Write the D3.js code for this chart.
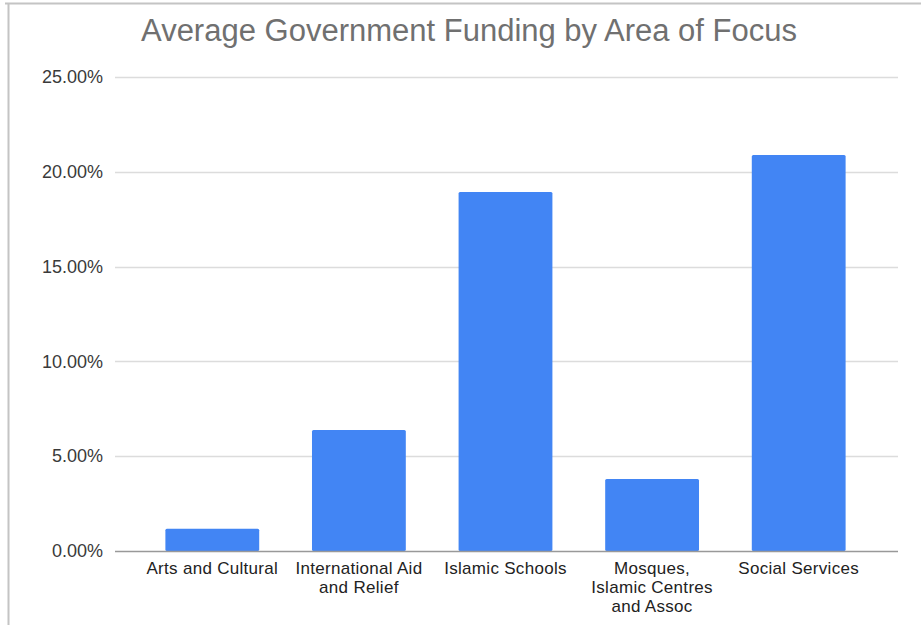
<!DOCTYPE html>
<html>
<head>
<meta charset="utf-8">
<script src="https://cdn.jsdelivr.net/npm/d3@7"></script>
<style>
  body { margin: 0; background: #fff; }
  svg { display: block; font-family: "Liberation Sans", Arial, sans-serif; }
</style>
</head>
<body>
<div id="chart"></div>
<script>
const title = 'Average Government Funding by Area of Focus'
const categories = [
  ['Arts and Cultural'],
  ['International Aid', 'and Relief'],
  ['Islamic Schools'],
  ['Mosques,', 'Islamic Centres', 'and Assoc'],
  ['Social Services']
]
const values = [0.0117, 0.0638, 0.1893, 0.038, 0.2089]
const yTicks = [0, 0.05, 0.10, 0.15, 0.20, 0.25]

const width = 921
const height = 625

const svg = d3.select('#chart')
  .append('svg')
  .attr('width', width)
  .attr('height', height)

// frame of the screenshot
svg.append('line')
  .attr('x1', 5).attr('x2', width).attr('y1', 3.5).attr('y2', 3.5)
  .attr('stroke', '#c4c4c4').attr('stroke-width', 2)
svg.append('line')
  .attr('x1', 8.5).attr('x2', 8.5).attr('y1', 3).attr('y2', height)
  .attr('stroke', '#c4c4c4').attr('stroke-width', 2)

svg.append('text')
  .attr('x', 469)
  .attr('y', 41)
  .attr('text-anchor', 'middle')
  .attr('fill', '#707070')
  .style('font-size', '31px')
  .text(title)

const keys = categories.map((c) => c.join(' '))

const x = d3.scaleBand()
  .domain(keys)
  .range([139, 872])
  .paddingInner(0.36)
  .paddingOuter(0.18)

const y = d3.scaleLinear()
  .domain([0, 0.25])
  .range([551, 77])

const gridLeft = 115
const gridRight = 898

svg.append('g')
  .selectAll('line')
  .data(yTicks.slice(1))
  .join('line')
  .attr('x1', gridLeft)
  .attr('x2', gridRight)
  .attr('y1', (d) => Math.round(y(d)) + 0.5)
  .attr('y2', (d) => Math.round(y(d)) + 0.5)
  .attr('stroke', '#dcdcdc')
  .attr('stroke-width', 1.5)

const yAxis = svg.append('g')
  .attr('transform', `translate(${gridLeft},0)`)
  .call(d3.axisLeft(y).tickValues(yTicks).tickFormat(d3.format('.2%')).tickSize(0).tickPadding(12))
yAxis.select('.domain').remove()
yAxis.selectAll('text')
  .attr('fill', '#3a3a3a')
  .style('font-size', '18px')
  .style('font-family', '"Liberation Sans", Arial, sans-serif')

svg.append('g')
  .selectAll('rect')
  .data(values)
  .join('rect')
  .attr('x', (d, i) => x(keys[i]))
  .attr('y', (d) => y(d))
  .attr('width', x.bandwidth())
  .attr('height', (d) => y(0) - y(d))
  .attr('rx', 1.5)
  .attr('fill', '#4285f4')

svg.append('line')
  .attr('x1', gridLeft)
  .attr('x2', gridRight)
  .attr('y1', y(0) + 0.5)
  .attr('y2', y(0) + 0.5)
  .attr('stroke', '#999')
  .attr('stroke-width', 1.5)

const labels = svg.append('g')
  .selectAll('text')
  .data(categories)
  .join('text')
  .attr('x', (d, i) => x(keys[i]) + x.bandwidth() / 2)
  .attr('y', 574)
  .attr('text-anchor', 'middle')
  .attr('fill', '#222')
  .style('font-size', '17px')
  .style('letter-spacing', '0.3px')

labels.selectAll('tspan')
  .data((d) => d)
  .join('tspan')
  .attr('x', function () { return d3.select(this.parentNode).attr('x') })
  .attr('dy', (d, i) => i === 0 ? 0 : 19)
  .text((d) => d)
</script>
</body>
</html>
